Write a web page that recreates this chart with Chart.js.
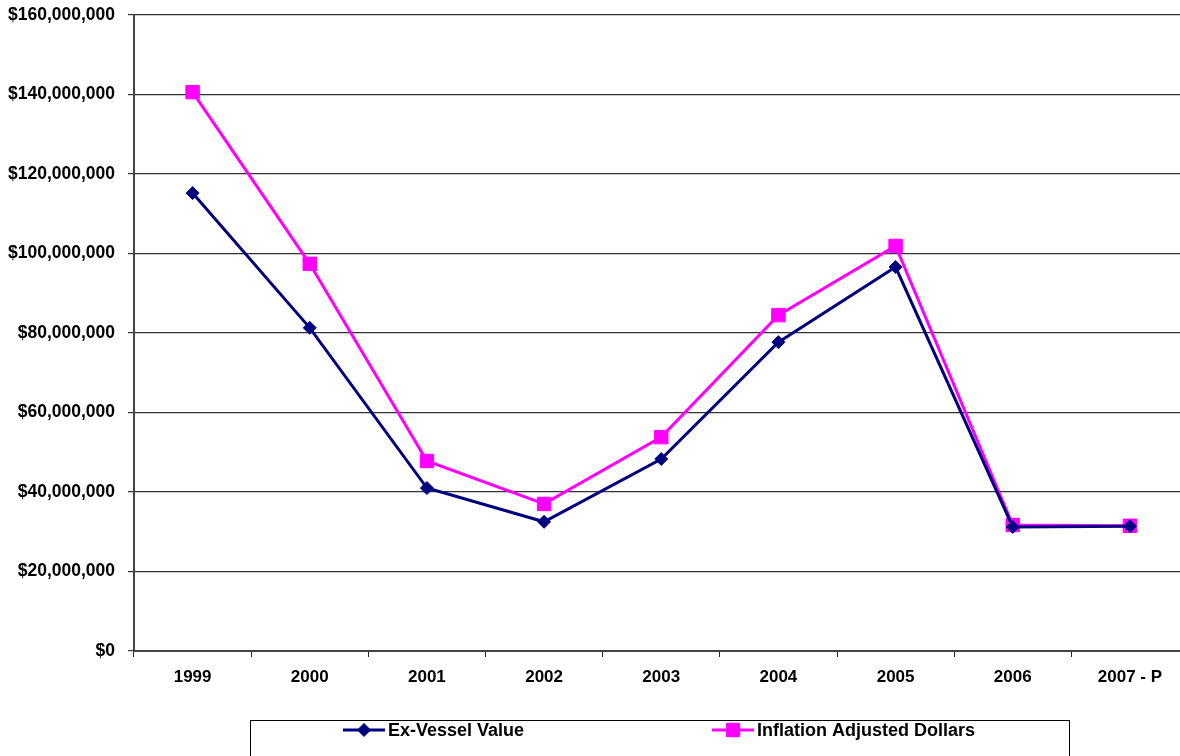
<!DOCTYPE html>
<html>
<head>
<meta charset="utf-8">
<script src="https://cdn.jsdelivr.net/npm/chart.js@4.4.1/dist/chart.umd.min.js"></script>
<style>
  html, body { margin: 0; padding: 0; background: #fff; overflow: hidden; }
  canvas { display: block; }
</style>
</head>
<body>
<!-- canvas is a bit wider than the window: the plot runs past the right edge -->
<canvas id="chart" width="1199" height="756"></canvas>
<script>
// chart data
const years = ['1999', '2000', '2001', '2002', '2003', '2004', '2005', '2006', '2007 - P'];
const exVesselValue = [115200000, 81300000, 41000000, 32500000, 48300000, 77700000, 96600000, 31200000, 31400000];
const inflationAdjusted = [140600000, 97400000, 47800000, 37000000, 53800000, 84500000, 101900000, 31700000, 31500000];
const yTicks = [0, 20000000, 40000000, 60000000, 80000000, 100000000, 120000000, 140000000, 160000000];

const FAMILY = "'Liberation Sans', Arial, sans-serif";

// boxed legend drawn under the plot, like the spreadsheet one
const boxLegend = {
  id: 'boxLegend',
  afterDraw(chart, args, opts) {
    const ctx = chart.ctx;
    ctx.save();
    ctx.strokeStyle = '#000';
    ctx.lineWidth = 1;
    ctx.strokeRect(opts.left + 0.5, opts.top + 0.5, opts.right - opts.left, 60);
    ctx.font = 'bold 18px ' + FAMILY;
    ctx.textBaseline = 'middle';
    chart.data.datasets.forEach((ds, i) => {
      const x = opts.items[i];
      const y = opts.itemY;
      ctx.strokeStyle = ds.borderColor;
      ctx.lineWidth = 3;
      ctx.beginPath();
      ctx.moveTo(x, y);
      ctx.lineTo(x + 42, y);
      ctx.stroke();
      ctx.fillStyle = ds.pointBackgroundColor;
      ctx.strokeStyle = ds.pointBorderColor;
      ctx.lineWidth = 1;
      Chart.helpers.drawPoint(ctx, {
        pointStyle: ds.pointStyle,
        radius: ds.pointRadius,
        borderWidth: 1
      }, x + 21, y);
      ctx.fillStyle = '#000';
      ctx.fillText(ds.label, x + 45, y + 1);
    });
    ctx.restore();
  }
};

const ctx = document.getElementById('chart').getContext('2d');
new Chart(ctx, {
  type: 'line',
  data: {
    labels: years,
    datasets: [
      {
        label: 'Ex-Vessel Value',
        data: exVesselValue,
        borderColor: '#000080',
        backgroundColor: '#000080',
        pointBackgroundColor: '#000080',
        pointBorderColor: '#000080',
        borderWidth: 3,
        pointStyle: 'rectRot',
        pointRadius: 6.5,
        pointBorderWidth: 1,
        tension: 0
      },
      {
        label: 'Inflation Adjusted Dollars',
        data: inflationAdjusted,
        borderColor: '#ff00ff',
        backgroundColor: '#ff00ff',
        pointBackgroundColor: '#ff00ff',
        pointBorderColor: '#ff00ff',
        borderWidth: 3,
        pointStyle: 'rect',
        pointRadius: 9.5,
        pointBorderWidth: 1,
        tension: 0
      }
    ]
  },
  options: {
    responsive: false,
    animation: false,
    layout: { padding: { top: 15, right: 0, left: 0, bottom: 0 } },
    plugins: {
      legend: { display: false },
      tooltip: { enabled: false },
      boxLegend: { left: 250, right: 1069, top: 720, itemY: 730, items: [343, 712] }
    },
    scales: {
      x: {
        offset: true,
        grid: { display: true, drawOnChartArea: false, offset: true, tickLength: 6, color: '#222', lineWidth: 1 },
        border: { color: '#444', width: 2 },
        ticks: { color: '#000', font: { family: FAMILY, size: 17, weight: 'bold' }, padding: 10, maxRotation: 0 },
        afterFit(s) {
          s.height = 105;
          s.paddingLeft = 0; s.paddingRight = 0;
        }
      },
      y: {
        min: 0,
        max: 160000000,
        afterBuildTicks(s) { s.ticks = yTicks.map(v => ({ value: v })); },
        grid: { color: '#333', lineWidth: 1.2, tickLength: 6 },
        border: { color: '#444', width: 2 },
        ticks: {
          color: '#000',
          font: { family: FAMILY, size: 17.5, weight: 'bold' },
          padding: 13,
          callback: v => '$' + Number(v).toLocaleString('en-US')
        },
        afterFit(s) {
          s.width = 134;
          s.paddingTop = 0; s.paddingBottom = 0;
        }
      }
    }
  },
  plugins: [boxLegend]
});
</script>
</body>
</html>
